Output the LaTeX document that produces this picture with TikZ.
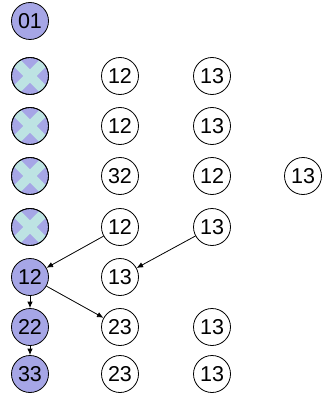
\documentclass[tikz,border=0pt]{standalone}
\usepackage{fontspec}
\setmainfont{Liberation Sans}
\usetikzlibrary{arrows.meta}
\definecolor{lav}{HTML}{A6A6E6}
\definecolor{cyanx}{HTML}{BDE3E3}
\tikzset{
  wnode/.style={circle,draw=black,line width=0.8pt,fill=white,minimum size=37pt,inner sep=0pt,font=\fontsize{21.5}{22}\selectfont},
  bnode/.style={wnode,fill=lav},
  xnode/.style={wnode,fill=lav},
  conn/.style={line width=0.8pt,-{Latex[length=6.5pt,width=5.5pt]}}
}
\newcommand{\crossnode}[2]{%
  \node[xnode] (#1) at #2 {};
  \begin{scope}[shift={#2}]
    \clip (0,0) circle (18);
    \fill[cyanx,rotate=45] (-20,-4.7) rectangle (20,4.7);
    \fill[cyanx,rotate=-45] (-20,-4.7) rectangle (20,4.7);
  \end{scope}
  \draw[line width=0.8pt] (#1.center) circle (18.5);
}
\begin{document}
\begin{tikzpicture}[x=1pt,y=-1pt]
\useasboundingbox (0,0) rectangle (325,393);
% row 1
\node[bnode] (a01) at (30,21) {01};
% rows 2-5 cross nodes
\crossnode{x2}{(30,76)}
\crossnode{x3}{(30,126)}
\crossnode{x4}{(30,176)}
\crossnode{x5}{(30,227)}
% row 2
\node[wnode] (r2a) at (120,76) {12};
\node[wnode] (r2b) at (212,76) {13};
% row 3
\node[wnode] (r3a) at (120,126) {12};
\node[wnode] (r3b) at (212,126) {13};
% row 4
\node[wnode] (r4a) at (120,176) {32};
\node[wnode] (r4b) at (212,176) {12};
\node[wnode] (r4c) at (303,176) {13};
% row 5
\node[wnode] (r5a) at (120,227) {12};
\node[wnode] (r5b) at (212,227) {13};
% row 6
\node[bnode] (r6m) at (30,277) {12};
\node[wnode] (r6a) at (120,277) {13};
% row 7
\node[bnode] (r7m) at (30,327) {22};
\node[wnode] (r7a) at (120,327) {23};
\node[wnode] (r7b) at (212,327) {13};
% row 8
\node[bnode] (r8m) at (30,374) {33};
\node[wnode] (r8a) at (120,374) {23};
\node[wnode] (r8b) at (212,374) {13};
% connectors
\draw[conn] (r5a) -- (r6m);
\draw[conn] (r5b) -- (r6a);
\draw[conn] (r6m) -- (r7m);
\draw[conn] (r6m) -- (r7a);
\draw[conn] (r7m) -- (r8m);
\end{tikzpicture}
\end{document}
